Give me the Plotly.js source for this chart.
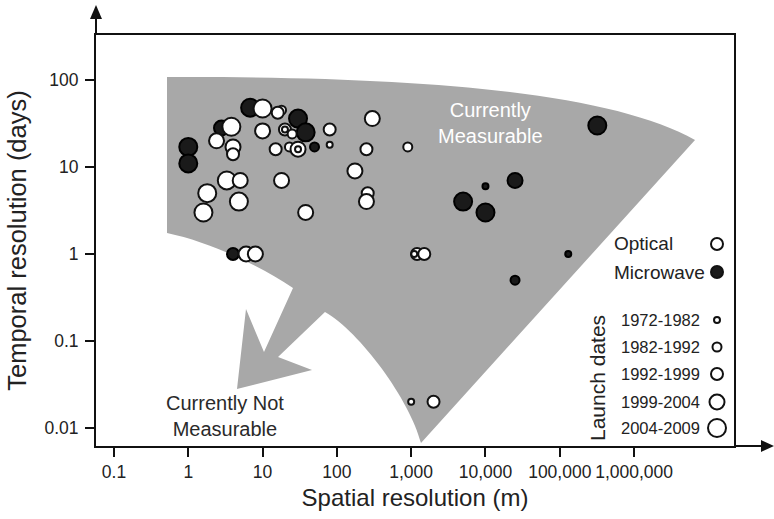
<!DOCTYPE html>
<html>
<head>
<meta charset="utf-8">
<script src="https://cdn.plot.ly/plotly-3.0.1.min.js"></script>
<style>html,body{margin:0;padding:0;background:#fff;}#chart{width:774px;height:519px;}</style>
</head>
<body>
<div id="chart"></div>
<script>
// ---------- data ----------
const launchPeriods = ['1972-1982', '1982-1992', '1992-1999', '1999-2004', '2004-2009'];

// Optical sensors: spatial resolution (m), temporal resolution (days), launch period index
const opticalRes     = [10, 18, 16, 3.8, 2.4, 4, 4, 10, 20, 20, 25, 15, 23, 30, 30, 80, 80, 300, 250, 175, 260, 250, 1.8, 1.6, 3.3, 5, 4.8, 18, 38, 900, 6, 8, 1200, 1500, 1100, 1000, 2000];
const opticalRevisit = [47, 45, 42, 29, 20, 17, 14, 26, 27, 27, 24, 16, 17, 16, 16, 27, 18, 36, 16, 9, 5, 4, 5, 3, 7, 7, 4, 7, 3, 17, 1, 1, 1, 1, 1, 0.02, 0.02];
const opticalPeriod  = [4, 1, 2, 4, 3, 3, 2, 3, 2, 0, 1, 2, 1, 3, 0, 2, 0, 3, 2, 3, 2, 3, 4, 4, 4, 3, 4, 3, 3, 1, 3, 3, 2, 2, 0, 0, 2];

// Microwave sensors
const microwaveRes     = [1, 1, 6.8, 2.8, 30, 38, 50, 320000, 25000, 10000, 5000, 10000, 130000, 25000, 4];
const microwaveRevisit = [17, 11, 48, 28, 36, 25, 17, 30, 7, 6, 4, 3, 1, 0.5, 1];
const microwavePeriod  = [4, 4, 4, 3, 4, 4, 1, 4, 3, 0, 4, 4, 0, 1, 2];

// Axis ticks
const xTickVals = [0.1, 1, 10, 100, 1000, 10000, 100000, 1000000];
const xTickText = ['0.1', '1', '10', '100', '1,000', '10,000', '100,000', '1,000,000'];
const yTickVals = [0.01, 0.1, 1, 10, 100];
const yTickText = ['0.01', '0.1', '1', '10', '100'];

// ---------- styling / layout ----------
const periodSize = [6, 9, 12, 15, 18];
const FONT = 'Liberation Sans, Arial, Helvetica, sans-serif';
const W = 774, H = 519;
const L = 96, R = 734, T = 35, B = 446;
const pw = R - L, ph = B - T;
const px = x => (x - L) / pw;
const py = y => (B - y) / ph;
const pathFrom = cmds => cmds.map(c => {
  if (c[0] === 'Z') return 'Z';
  let s = c[0];
  for (let i = 1; i < c.length; i += 2) s += (i > 1 ? ' ' : '') + px(c[i]).toFixed(4) + ',' + py(c[i + 1]).toFixed(4);
  return s;
}).join(' ');

// measurable region (fan with arrow), in pixel space of the figure
const fanPath = pathFrom([
  ['M', 167, 77],
  ['C', 420, 76, 610, 92, 695, 140],
  ['L', 421, 443],
  ['C', 410, 400, 360, 332, 325, 312],
  ['L', 278, 357],
  ['L', 312, 370],
  ['L', 237, 389],
  ['L', 246, 309],
  ['L', 264, 352],
  ['L', 293, 288],
  ['C', 260, 266, 210, 242, 167, 233],
  ['Z']
]);
const yArrow = pathFrom([['M', 96, 5], ['L', 90, 19], ['L', 102, 19], ['Z']]);
const xArrow = pathFrom([['M', 774, 446], ['L', 761, 440], ['L', 761, 452], ['Z']]);

const traces = [
  {
    type: 'scatter', mode: 'markers', name: 'Microwave',
    x: microwaveRes, y: microwaveRevisit,
    marker: { size: microwavePeriod.map(p => periodSize[p]), color: '#1a1a1a', opacity: 1, line: { color: '#000', width: 2 } },
    cliponaxis: false, hoverinfo: 'x+y'
  },
  {
    type: 'scatter', mode: 'markers', name: 'Optical',
    x: opticalRes, y: opticalRevisit,
    marker: { size: opticalPeriod.map(p => periodSize[p]), color: '#ffffff', opacity: 1, line: { color: '#111', width: 2 } },
    cliponaxis: false, hoverinfo: 'x+y'
  },
  // legend keys drawn on a pixel-like overlay axis
  {
    type: 'scatter', mode: 'markers', xaxis: 'x2', yaxis: 'y2', hoverinfo: 'skip',
    x: [717, 717].concat(launchPeriods.map(() => 717)),
    y: [244, 272, 320, 347, 374, 402, 428],
    marker: {
      size: [periodSize[2], periodSize[2]].concat(launchPeriods.map((_, i) => periodSize[i])),
      color: ['#fff', '#1a1a1a', '#fff', '#fff', '#fff', '#fff', '#fff'],
      opacity: 1,
      line: { color: '#111', width: 2 }
    },
    cliponaxis: false
  }
];

const ann = (x, y, text, size, color, extra) => Object.assign({
  xref: 'paper', yref: 'paper', x: px(x), y: py(y), text: text, showarrow: false,
  xanchor: 'center', yanchor: 'middle',
  font: { family: FONT, size: size, color: color }
}, extra || {});

const annotations = [
  ann(490, 123, 'Currently<br>Measurable', 20, '#ffffff'),
  ann(225, 416, 'Currently Not<br>Measurable', 20, '#2a2a2a'),
  ann(612, 244, 'Optical', 19, '#222', { xanchor: 'left' }),
  ann(612, 272, 'Microwave', 19, '#222', { xanchor: 'left' }),
  ann(597, 378, 'Launch dates', 21, '#222', { textangle: -90 })
].concat(launchPeriods.map((t, i) => ann(619, [320, 347, 374, 402, 428][i], t, 16.5, '#222', { xanchor: 'left' })));

const layout = {
  width: W, height: H,
  margin: { l: L, r: W - R, t: T, b: H - B, pad: 0 },
  paper_bgcolor: '#fff', plot_bgcolor: 'rgba(0,0,0,0)',
  showlegend: false,
  font: { family: FONT, color: '#222' },
  xaxis: {
    type: 'log', range: [-1.242, 7.345],
    tickvals: xTickVals, ticktext: xTickText,
    ticks: 'outside', ticklen: 9, tickwidth: 2, tickcolor: '#111',
    showline: true, linewidth: 2, linecolor: '#111', mirror: true,
    showgrid: false, zeroline: false,
    tickfont: { family: FONT, size: 17.5, color: '#222' },
    title: { text: '\u00a0\u00a0\u00a0\u00a0Spatial resolution (m)', font: { family: FONT, size: 24, color: '#222' }, standoff: 8 }
  },
  yaxis: {
    type: 'log', range: [-2.207, 2.517],
    tickvals: yTickVals, ticktext: yTickText,
    ticks: 'outside', ticklen: 9, tickwidth: 2, tickcolor: '#111',
    showline: true, linewidth: 2, linecolor: '#111', mirror: true,
    showgrid: false, zeroline: false, ticklabelstandoff: 3,
    tickfont: { family: FONT, size: 17.5, color: '#222' },
    title: { text: 'Temporal resolution (days)', font: { family: FONT, size: 25.5, color: '#222' }, standoff: 11 }
  },
  xaxis2: { overlaying: 'x', range: [L, R], visible: false, fixedrange: true },
  yaxis2: { overlaying: 'y', range: [B, T], visible: false, fixedrange: true },
  shapes: [
    { type: 'path', xref: 'paper', yref: 'paper', path: fanPath, fillcolor: '#a8a8a8', line: { width: 0 }, layer: 'below' },
    { type: 'line', xref: 'paper', yref: 'paper', x0: 0, y0: 1, x1: 0, y1: py(18), line: { color: '#111', width: 2 } },
    { type: 'path', xref: 'paper', yref: 'paper', path: yArrow, fillcolor: '#111', line: { width: 0 } },
    { type: 'line', xref: 'paper', yref: 'paper', x0: 1, y0: 0, x1: px(762), y1: 0, line: { color: '#111', width: 2 } },
    { type: 'path', xref: 'paper', yref: 'paper', path: xArrow, fillcolor: '#111', line: { width: 0 } }
  ],
  annotations: annotations
};

Plotly.newPlot('chart', traces, layout, { displayModeBar: false, staticPlot: true });
</script>
</body>
</html>
